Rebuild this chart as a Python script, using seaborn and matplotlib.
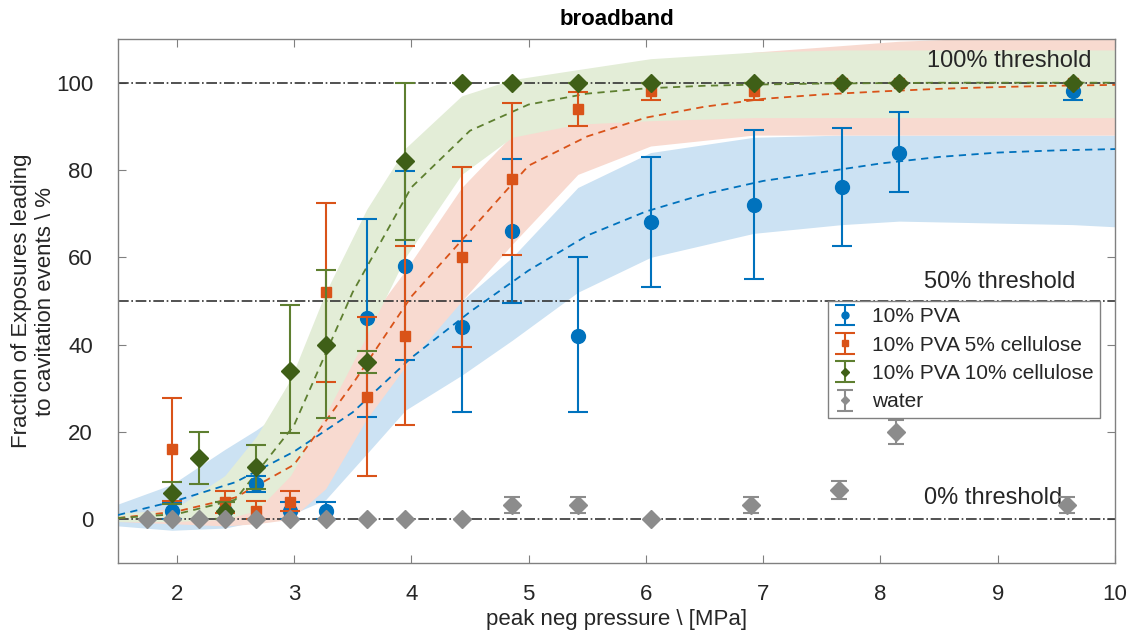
import numpy as np
import pandas as pd
import matplotlib
matplotlib.use('Agg')
import matplotlib.pyplot as plt
import seaborn as sns

pva_p = [1.96, 2.41, 2.68, 2.97, 3.27, 3.62, 3.95, 4.43, 4.86, 5.42, 6.04, 6.92, 7.67, 8.16, 9.64]
pva_y = [2, 2, 8, 2, 2, 46, 58, 44, 66, 42, 68, 72, 76, 84, 98]
pva_lo = [0, 0, 6.3, 0, 0, 23.5, 36.5, 24.5, 49.5, 24.5, 53.3, 55, 62.5, 75, 96]
pva_hi = [4, 4, 10, 4, 4, 68.8, 79.7, 63.7, 82.5, 60, 83, 89.2, 89.7, 93.3, 100]

cel5_p = [1.96, 2.41, 2.68, 2.97, 3.27, 3.62, 3.95, 4.43, 4.86, 5.42, 6.04, 6.92, 7.67, 8.16, 9.64]
cel5_y = [16, 4, 2, 4, 52, 28, 42, 60, 78, 94, 98, 98, 100, 100, 100]
cel5_lo = [4.2, 1.5, 0, 1.8, 31.5, 10, 21.5, 39.4, 60.5, 90, 96, 96, 100, 100, 100]
cel5_hi = [27.8, 6.5, 4.2, 6.6, 72.4, 46.4, 62.5, 80.6, 95.3, 97.9, 100, 100, 100, 100, 100]

cel10_p = [1.96, 2.19, 2.41, 2.68, 2.97, 3.27, 3.62, 3.95, 4.43, 4.86, 5.42, 6.04, 6.92, 7.67, 8.16, 9.64]
cel10_y = [6, 14, 2, 12, 34, 40, 36, 82, 100, 100, 100, 100, 100, 100, 100, 100]
cel10_lo = [3.5, 8.2, 0, 7, 19.7, 23.3, 33.6, 64, 100, 100, 100, 100, 100, 100, 100, 100]
cel10_hi = [8.5, 20.1, 4, 17, 49, 57, 38.5, 100, 100, 100, 100, 100, 100, 100, 100, 100]

water_p = [1.75, 1.96, 2.19, 2.41, 2.68, 2.97, 3.27, 3.62, 3.95, 4.43, 4.86, 5.42, 6.04, 6.9, 7.65, 8.13, 9.59]
water_y = [0, 0, 0, 0, 0, 0, 0, 0, 0, 0, 3.3, 3.3, 0, 3.3, 6.7, 20, 3.3]
water_err = [0, 0, 0, 0, 0, 0, 0, 0, 0, 0, 1.8, 1.8, 0, 1.8, 2, 2.7, 1.8]

# fitted curves
fit_p = [1.5, 2, 2.5, 3, 3.5, 4, 4.5, 5, 5.5, 6, 6.5, 7, 7.5, 8, 8.5, 9, 9.5, 10]
fit_pva = [1, 4.3, 8.5, 15.5, 24.5, 37, 47.5, 57, 65, 70.5, 74.5, 77.5, 79.5, 81.5, 83, 84, 84.5, 84.8]
fit_cel5 = [0.3, 1.8, 5, 12.5, 31, 51, 66, 81, 87.7, 92, 94.5, 96.3, 97.3, 98, 98.6, 99, 99.3, 99.5]
fit_cel10 = [0.3, 1.2, 4.5, 21.5, 52, 76, 89, 95, 97.5, 98.7, 99.3, 99.6, 99.8, 99.9, 100, 100, 100, 100]

# confidence bands
band_p = [1.5, 1.96, 2.41, 2.68, 2.97, 3.27, 3.62, 3.95, 4.43, 4.86, 5.42, 6.04, 6.92, 7.67, 8.16, 9.64, 10]
blue_lo = [-1.5, -2.5, -2, -0.5, 1, 4.5, 15, 25, 33, 41, 52, 60, 65.5, 67.5, 68.3, 67.5, 67]
blue_hi = [3.5, 8, 16, 20.5, 26, 32, 38, 44, 50, 60, 76, 84, 87.5, 88, 88, 88, 88]
pink_lo = [-0.5, -1, -1.5, -1, 0, 7, 23, 35, 50, 63, 79, 85.5, 88, 88, 88, 88, 88]
pink_hi = [1, 2.5, 5, 8, 15, 28, 45, 57, 76, 88, 100, 104, 107, 108.5, 109.5, 111, 111]
green_lo = [-0.5, -0.5, 0, 2, 10, 24, 42, 60, 79, 87.5, 90.5, 91.3, 92, 92, 92, 92, 92]
green_hi = [1.5, 2, 10, 19, 32, 52, 71, 85, 97, 100.7, 103, 105.5, 107, 107.5, 107.5, 107.5, 107.5]

thresholds = [0, 50, 100]
threshold_labels = ['0% threshold', '50% threshold', '100% threshold']

c_blue = '#0072BD'
c_orange = '#D95319'
c_green = '#3F5F17'
c_green_err = '#5E7F30'
c_gray = '#8C8C8C'

sns.set_theme(style='ticks')
plt.rcParams['font.family'] = ['Liberation Sans', 'DejaVu Sans']

fig = plt.figure(figsize=(11.37, 6.4), dpi=100)
ax = fig.add_axes([0.1038, 0.1203, 0.8769, 0.8187])

# bands
ax.fill_between(band_p, blue_lo, blue_hi, color='#CCE2F3', lw=0, zorder=1)
ax.fill_between(band_p, pink_lo, pink_hi, color='#F8DAD0', lw=0, zorder=1.1)
ax.fill_between(band_p, green_lo, green_hi, color='#E3EDD7', lw=0, zorder=1.2)

# threshold lines
for t in thresholds:
    ax.axhline(t, color='#333333', ls='-.', lw=1.2, zorder=2)

# fit curves
fits = pd.DataFrame({'p': fit_p, 'pva': fit_pva, 'cel5': fit_cel5, 'cel10': fit_cel10})
for col, c in [('pva', c_blue), ('cel5', c_orange), ('cel10', c_green_err)]:
    sns.lineplot(data=fits, x='p', y=col, ax=ax, color=c, lw=1.3, zorder=3)
for ln in ax.lines[-3:]:
    ln.set_dashes((4, 3))

def err(y, lo, hi):
    y = np.array(y); return [y - np.array(lo), np.array(hi) - y]

ax.errorbar(pva_p, pva_y, yerr=err(pva_y, pva_lo, pva_hi), fmt='o', color=c_blue,
            ms=10, capsize=7, elinewidth=1.5, capthick=1.5, label='10% PVA', zorder=4)
ax.errorbar(cel5_p, cel5_y, yerr=err(cel5_y, cel5_lo, cel5_hi), fmt='s', color=c_orange,
            ms=7.5, capsize=7, elinewidth=1.5, capthick=1.5, label='10% PVA 5% cellulose', zorder=5)
ax.errorbar(cel10_p, cel10_y, yerr=err(cel10_y, cel10_lo, cel10_hi), fmt='D', color=c_green,
            ecolor=c_green_err, ms=9, capsize=7, elinewidth=1.5, capthick=1.5,
            label='10% PVA 10% cellulose', zorder=6)
ax.errorbar(water_p, water_y, yerr=water_err, fmt='D', color=c_gray,
            ms=9, capsize=6, elinewidth=1.5, capthick=1.5, label='water', zorder=7)

ax.text(9.8, 105, threshold_labels[2], ha='right', va='center', fontsize=17, color='#262626')
ax.text(9.66, 54.3, threshold_labels[1], ha='right', va='center', fontsize=17, color='#262626')
ax.text(9.55, 5, threshold_labels[0], ha='right', va='center', fontsize=17, color='#262626')

ax.set_xlim(1.5, 10)
ax.set_ylim(-10, 110)
ax.set_xticks(range(2, 11))
ax.set_yticks(range(0, 101, 20))
ax.tick_params(direction='in', top=True, right=True, length=6, width=0.8,
               color='#808080', labelsize=16, labelcolor='#262626')
ax.tick_params(axis='x', pad=15)
ax.tick_params(axis='y', pad=18)
for s in ax.spines.values():
    s.set_color('#808080')
    s.set_linewidth(1.0)

ax.set_xlabel('peak neg pressure \\ [MPa]', fontsize=16, color='#262626', labelpad=3)
ax.set_ylabel('Fraction of Exposures leading\nto cavitation events \\ %', fontsize=16,
              color='#262626', labelpad=0)
ax.set_title('broadband', fontsize=16, fontweight='bold', color='black', pad=10)

leg = ax.legend(loc='upper right', bbox_to_anchor=(0.985, 0.5), borderaxespad=0, fontsize=15,
                frameon=True, fancybox=False, framealpha=1, edgecolor='#808080',
                markerscale=0.5, handlelength=1.0, borderpad=0.3, labelspacing=0.45)
leg.get_frame().set_linewidth(1.0)
leg.set_zorder(10)

fig.savefig('out.png', dpi=100)
